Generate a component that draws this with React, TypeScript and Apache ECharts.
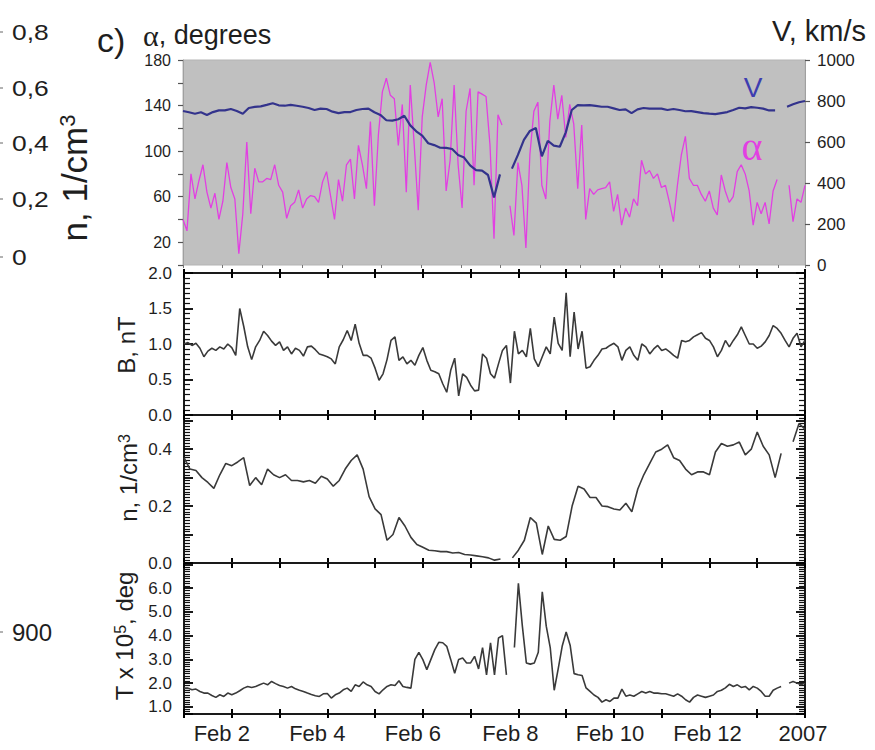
import React, { useEffect, useRef } from "react";
import * as echarts from "echarts";

// ---------- data (time = days since Feb 1 2007, 00:00) ----------
const ALPHA_STEP_H = 2;
const alphaDeg = [
  40, 30, 80, 58, 74, 88, 64, 50, 63, 40,
  56, 90, 68, 58, 10, 45, 108, 45, 85, 73,
  73, 76, 75, 88, 70, 64, 41, 52, 55, 66,
  50, 58, 61, 60, 55, 73, 82, 61, 40, 75,
  56, 88, 93, 58, 105, 88, 67, 126, 52, 114,
  152, 164, 149, 146, 105, 141, 64, 158, 105, 48,
  130, 158, 178, 160, 130, 146, 65, 92, 158, 88,
  50, 135, 155, 70, 152, 150, 148, 105, 23, 132,
  123, null, 52, 26, 90, 70, 15, 97, 135, 143,
  70, 58, 126, 158, 128, 149, 112, 141, 124, 67,
  123, 40, 67, 62, 66, 67, 68, 73, 47, 62,
  35, 50, 42, 58, 52, 92, 80, 83, 76, 80,
  68, 70, 55, 38, 70, 97, 113, 76, 70, 70,
  62, 56, 65, 50, 44, 79, 65, 55, 60, 82,
  88, 80, 65, 35, 55, 45, 55, 36, 65, 75,
  null, null, 70, 38, 58, 55, 70,
];

const V_STEP_H = 3;
const speedKms = [
  751, 745, 738, 745, 732, 746, 754, 754, 761, 751,
  738, 766, 771, 774, 781, 789, 779, 777, 781, 777,
  772, 766, 756, 763, 761, 748, 741, 746, 746, 756,
  761, 763, 745, 732, 706,
  704, 711, 728, 681, 652, 631, 594, 585, 572, 571,
  566, 537, 524, 486, 463, 460, 439, 330, 442, null,
  470, 537, 610, 654, 668, 530, 606, 582, 577, 647,
  756, 780, 779, 780, 776,
  772, 772, 764, 756, 759, 741, 759, 766, 763, 763,
  763, 756, 761, 756, 750, 751, 746, 741, 738, 736,
  741, 746, 756, 767, 764, 770, 767, 763, 754, 754,
  null, 772, 784, 794, 800,
];

const B_STEP_H = 2;
const bField = [
  1.0, 1.02, 0.98, 1.01, 0.94, 0.82, 0.9, 0.94, 0.91, 0.96,
  0.93, 1.0, 0.95, 0.84, 1.5, 1.25, 0.96, 0.78, 0.96, 1.05,
  1.18, 1.12, 1.04, 0.98, 1.03, 0.91, 0.96, 0.86, 0.94, 0.91,
  0.83, 0.96, 0.97, 0.92, 0.86, 0.84, 0.82, 0.79, 0.72, 0.96,
  1.06, 1.19, 1.05, 1.28, 1.01, 0.84, 0.84, 0.8, 0.66, 0.49,
  0.58, 0.78, 1.05, 1.1, 0.77, 0.82, 0.72, 0.77, 0.7, 0.84,
  0.95, 0.77, 0.63, 0.61, 0.58, 0.44, 0.32, 0.63, 0.8, 0.27,
  0.58, 0.53, 0.42, 0.34, 0.35, 0.86, 0.8, 0.58, 0.52, 0.72,
  0.91, 0.98, 0.45, 1.18, 0.86, 0.91, 0.82, 1.22, 0.79, 0.68,
  0.82, 0.96, 0.86, 1.38, 1.01, 0.91, 1.72, 0.82, 1.45, 0.93,
  1.18, 0.66, 0.68, 0.77, 0.84, 0.93, 0.94, 0.98, 1.01, 0.96,
  0.77, 0.91, 0.96, 0.84, 0.77, 1.0, 0.96, 0.86, 0.93, 0.98,
  0.91, 0.93, 0.89, 0.84, 0.8, 1.05, 1.03, 1.05, 1.1, 1.13,
  1.16, 1.08, 1.05, 0.96, 0.82, 0.91, 1.05, 0.96, 1.05, 1.13,
  1.24, 1.12, 1.0, 1.0, 0.94, 0.97, 1.03, 1.12, 1.26, 1.22,
  1.15, 1.05, 0.96, 1.08, 1.15, 0.96, 1.05,
];

const N_STEP_H = 3;
const density = [
  0.37, 0.33, 0.325, 0.3, 0.283, 0.262, 0.31, 0.35, 0.342, 0.355,
  0.37, 0.272, 0.3, 0.275, 0.33, 0.31, 0.3, 0.31, 0.29, 0.29,
  0.285, 0.29, 0.28, 0.305, 0.295, 0.27, 0.29, 0.33, 0.36, 0.38,
  0.33, 0.233, 0.19, 0.17, 0.08, 0.1, 0.16, 0.13, 0.09, 0.065,
  0.055, 0.045, 0.043, 0.04, 0.04, 0.035, 0.037, 0.03, 0.028, 0.025,
  0.022, 0.018, 0.01, 0.014,
  null, 0.018, 0.045, 0.08, 0.16, 0.14, 0.03, 0.13, 0.083, 0.08,
  0.093, 0.2, 0.27, 0.26, 0.23, 0.23, 0.2, 0.198, 0.19, 0.186,
  0.21, 0.18, 0.26, 0.31, 0.35, 0.39, 0.4, 0.415, 0.37, 0.36,
  0.33, 0.31, 0.32, 0.32, 0.31, 0.39, 0.42, 0.41, 0.415, 0.425,
  0.38, 0.4, 0.46, 0.41, 0.38, 0.3, 0.385, null, 0.426, 0.49,
  0.47,
];

const T_STEP_H = 2;
const temperature = [
  1.79, 1.79, 1.72, 1.75, 1.65, 1.58, 1.58, 1.48, 1.4, 1.51,
  1.44, 1.58, 1.51, 1.58, 1.68, 1.79, 1.86, 1.82, 1.86, 1.93,
  2.0, 1.93, 2.07, 1.98, 1.9, 1.86, 1.79, 1.86, 1.76, 1.7,
  1.65, 1.58, 1.52, 1.47, 1.44, 1.55, 1.56, 1.37, 1.51, 1.58,
  1.72, 1.79, 1.65, 1.93, 1.86, 2.05, 1.93, 1.86, 1.65, 1.55,
  1.72, 1.86, 1.93, 1.9, 2.1, 1.86, 1.82, 1.79,
  3.0, 3.3, 2.99, 2.57, 2.99, 3.41, 3.72, 3.7, 3.55, 3.0,
  2.42, 3.0, 3.06, 2.85, 2.85, 3.13, 2.6, 3.5, 2.35, 3.7,
  2.35, 3.9, 4.0, 2.35,
  null, 3.5, 6.2, 4.4, 2.85, 2.8, 2.85, 3.3, 5.85, 4.4,
  3.5, 1.7, 2.6, 3.55, 4.15, 3.6, 2.4, 2.35, 2.32, 1.8,
  1.65, 1.5, 1.4, 1.2, 1.3, 1.23, 1.37, 1.37, 1.75, 1.45,
  1.5, 1.45, 1.55, 1.65, 1.58, 1.65, 1.58, 1.58, 1.55, 1.55,
  1.5, 1.45, 1.55, 1.45, 1.3, 1.2, 1.4, 1.5, 1.45, 1.4,
  1.45, 1.5, 1.65, 1.7, 1.8, 1.95, 1.86, 1.93, 1.82, 1.86,
  1.72, 1.86, 1.79, 1.65, 1.45, 1.45, 1.7, 1.79, 1.86, null,
  2.0, 2.07, 2.0, 1.93, 2.0,
];

// tick labels
const xLabelDays = [1, 3, 5, 7, 9, 11, 13];
const xLabelTexts = ["Feb 2", "Feb 4", "Feb 6", "Feb 8", "Feb 10", "Feb 12", "2007"];
const alphaTickLabels = [20, 60, 100, 140, 180];
const bTickLabels = [0, 0.5, 1, 1.5, 2];
const nTickLabels = [0, 0.2, 0.4];
const tTickLabels = [1, 2, 3, 4, 5, 6];
const leftCropLabels = ["0,8", "0,6", "0,4", "0,2", "0"];
const leftCropExtra = "900";

// ---------- styling ----------
const FONT = '"Liberation Sans", Arial, Helvetica, sans-serif';
const SERIF = '"Liberation Serif", "DejaVu Serif", "Times New Roman", serif';
const INK = "#1e1e1e";
const FRAME = "#1a1a1a";
const ALPHA_COLOR = "#e23fe2";
const V_COLOR = "#33338c";
const LINE_COLOR = "#3a3a3a";
const xLabelShiftPx = [10, 10, 10, 8, 4, 2, 2];
const leftCropY = [32, 88, 143, 199, 257];

const pairs = (values: (number | null)[], stepH: number) =>
  values.map((v, i) => [(i * stepH) / 24, v == null ? "-" : v]);

const near = (list: number[], v: number) => list.some((t) => Math.abs(t - v) < 1e-6);

const lineBase = { type: "line", showSymbol: false, symbol: "none", connectNulls: false, silent: true };

const dayAxis = (position: string, inside: boolean, extra: any = {}) => ({
  gridIndex: 0,
  type: "value",
  min: 0,
  max: 13,
  interval: 1,
  position,
  axisLine: { show: true, onZero: false, lineStyle: { color: FRAME, width: 2 } },
  axisTick: { show: true, inside, length: inside ? 5 : 4, lineStyle: { color: "#000", width: 2 } },
  axisLabel: { show: false },
  splitLine: { show: false },
  ...extra,
});

const lowerY = (position: string, min: number, max: number, minorSplit: number, extra: any = {}) => ({
  gridIndex: 0,
  type: "value",
  position,
  min,
  max,
  axisLine: { show: true, onZero: false, lineStyle: { color: FRAME, width: 2 } },
  axisTick: { show: true, inside: true, length: 9, lineStyle: { color: "#000", width: 1.8 } },
  minorTick: { show: true, splitNumber: minorSplit, length: 6, lineStyle: { color: "#111", width: 1.2 } },
  axisLabel: { show: false },
  splitLine: { show: false },
  minorSplitLine: { show: false },
  ...extra,
});

const yLabel = (formatter: (v: number) => string) => ({
  show: true,
  margin: 12,
  fontSize: 17,
  color: INK,
  fontFamily: FONT,
  formatter,
});

const xRich: any = {};
[20, 16, 8, 4].forEach((p) => {
  xRich["s" + p] = { padding: [0, p, 0, 0], fontSize: 22, fontFamily: FONT, color: INK };
});

function topPanel() {
  return {
    animation: false,
    grid: [{ left: 183, right: 70, top: 60, height: 205, show: true, backgroundColor: "#c0c0c0", borderColor: "#b4b4b4", borderWidth: 1 }],
    xAxis: [
      {
        gridIndex: 0,
        type: "value",
        min: 0,
        max: 13,
        interval: 0.83,
        position: "bottom",
        axisLine: { show: false, onZero: false },
        axisTick: { show: true, length: 3, lineStyle: { color: "#777", width: 1 } },
        axisLabel: { show: false },
        splitLine: { show: false },
      },
    ],
    yAxis: [
      {
        gridIndex: 0,
        type: "value",
        position: "left",
        min: 0,
        max: 180,
        interval: 20,
        axisLine: { show: true, onZero: false, lineStyle: { color: "#a0a0a0", width: 1 } },
        axisTick: { show: true, inside: false, length: 5, lineStyle: { color: "#555", width: 1.2 } },
        axisLabel: { show: true, margin: 12, fontSize: 16, color: INK, fontFamily: FONT, formatter: (v: number) => (near(alphaTickLabels, v) ? String(v) : "") },
        splitLine: { show: false },
      },
      {
        gridIndex: 0,
        type: "value",
        position: "right",
        min: 0,
        max: 1000,
        interval: 200,
        axisLine: { show: true, onZero: false, lineStyle: { color: "#a0a0a0", width: 1 } },
        axisTick: { show: true, inside: false, length: 5, lineStyle: { color: "#555", width: 1.2 } },
        axisLabel: { show: true, margin: 12, fontSize: 17, color: INK, fontFamily: FONT, formatter: (v: number) => String(v) },
        splitLine: { show: false },
      },
    ],
    series: [
      { ...lineBase, name: "α", xAxisIndex: 0, yAxisIndex: 0, data: pairs(alphaDeg, ALPHA_STEP_H), lineStyle: { color: ALPHA_COLOR, width: 1.3 } },
      { ...lineBase, name: "V", xAxisIndex: 0, yAxisIndex: 1, data: pairs(speedKms, V_STEP_H), lineStyle: { color: V_COLOR, width: 2.2 } },
    ],
  };
}

function bPanel() {
  return {
    animation: false,
    grid: [{ left: 184, right: 70, top: 273, height: 142 }],
    xAxis: [dayAxis("top", true), dayAxis("top", false), dayAxis("bottom", true)],
    yAxis: [
      lowerY("left", 0, 2, 7, { interval: 0.5, axisLabel: yLabel((v) => (near(bTickLabels, v) ? v.toFixed(1) : "")) }),
      lowerY("right", 0, 2, 7, { interval: 0.5 }),
    ],
    series: [{ ...lineBase, name: "B", xAxisIndex: 0, yAxisIndex: 0, data: pairs(bField, B_STEP_H), lineStyle: { color: LINE_COLOR, width: 1.6 } }],
  };
}

function nPanel() {
  return {
    animation: false,
    grid: [{ left: 184, right: 70, top: 415, height: 148 }],
    xAxis: [dayAxis("top", true), dayAxis("bottom", true)],
    yAxis: [
      lowerY("left", 0, 0.52, 10, { splitNumber: 5, axisLabel: yLabel((v) => (near(nTickLabels, v) ? v.toFixed(1) : "")) }),
      lowerY("right", 0, 0.52, 10, { splitNumber: 5 }),
    ],
    series: [{ ...lineBase, name: "n", xAxisIndex: 0, yAxisIndex: 0, data: pairs(density, N_STEP_H), lineStyle: { color: LINE_COLOR, width: 1.6 } }],
  };
}

function tPanel() {
  return {
    animation: false,
    grid: [{ left: 184, right: 70, top: 563, height: 151 }],
    xAxis: [
      dayAxis("top", true),
      dayAxis("bottom", true),
      dayAxis("bottom", false, {
        axisLabel: {
          show: true,
          margin: 8,
          fontSize: 22,
          color: INK,
          fontFamily: FONT,
          rich: xRich,
          formatter: (v: number) => {
            const r = Math.round(v);
            if (Math.abs(v - r) > 1e-6) return "";
            const k = xLabelDays.indexOf(r);
            if (k < 0) return "";
            return `{s${xLabelShiftPx[k] * 2}|${xLabelTexts[k]}}`;
          },
        },
      }),
    ],
    yAxis: [
      lowerY("left", 0.7, 7.06, 10, { splitNumber: 6, axisLabel: yLabel((v) => (near(tTickLabels, v) ? v.toFixed(1) : "")) }),
      lowerY("right", 0.7, 7.06, 10, { splitNumber: 6 }),
    ],
    series: [{ ...lineBase, name: "T", xAxisIndex: 0, yAxisIndex: 0, data: pairs(temperature, T_STEP_H), lineStyle: { color: LINE_COLOR, width: 1.6 } }],
  };
}

function textLayer() {
  const supRich = (big: number, small: number) => ({
    a: { fontSize: big, fontFamily: FONT, fill: INK },
    s: { fontSize: small, fontFamily: FONT, fill: INK, verticalAlign: "top" },
  });
  const graphic: any[] = [
    ...leftCropLabels.map((t, k) => ({
      type: "text",
      x: 12,
      y: leftCropY[k],
      scaleX: 1.2,
      style: { text: t, fontSize: 22, fontFamily: FONT, fill: INK, align: "left", verticalAlign: "middle" },
    })),
    ...leftCropY.concat([632]).map((y) => ({
      type: "line",
      shape: { x1: 0, y1: y, x2: 3, y2: y },
      style: { stroke: "#666", lineWidth: 1 },
    })),
    { type: "text", x: 12, y: 632, style: { text: leftCropExtra, fontSize: 24, fontFamily: FONT, fill: INK, align: "left", verticalAlign: "middle" } },
    { type: "text", x: 74, y: 178, rotation: Math.PI / 2, style: { text: "{a|n, 1/cm}{s|3}", rich: supRich(35, 22), align: "center", verticalAlign: "middle" } },
    { type: "text", x: 97, y: 40, style: { text: "c)", fontSize: 34, fontFamily: FONT, fill: INK, align: "left", verticalAlign: "middle" } },
    {
      type: "text",
      x: 143,
      y: 35,
      style: {
        text: "{g|α}{t|, degrees}",
        rich: { g: { fontSize: 30, fontFamily: SERIF, fill: INK }, t: { fontSize: 27, fontFamily: FONT, fill: INK } },
        align: "left",
        verticalAlign: "middle",
      },
    },
    { type: "text", x: 866, y: 31, style: { text: "V, km/s", fontSize: 29, fontFamily: FONT, fill: INK, align: "right", verticalAlign: "middle" } },
    { type: "text", x: 753, y: 87, style: { text: "V", fontSize: 28, fontFamily: FONT, fill: "#3d3db0", align: "center", verticalAlign: "middle" } },
    { type: "text", x: 752, y: 146, style: { text: "α", fontSize: 40, fontFamily: SERIF, fill: ALPHA_COLOR, align: "center", verticalAlign: "middle" } },
    { type: "text", x: 126, y: 345, rotation: Math.PI / 2, style: { text: "B, nT", fontSize: 24, fontFamily: FONT, fill: INK, align: "center", verticalAlign: "middle" } },
    { type: "text", x: 128, y: 478, rotation: Math.PI / 2, style: { text: "{a|n, 1/cm}{s|3}", rich: supRich(24, 16), align: "center", verticalAlign: "middle" } },
    { type: "text", x: 124, y: 636, rotation: Math.PI / 2, style: { text: "{a|T x 10}{s|5}{a|, deg}", rich: supRich(24, 16), align: "center", verticalAlign: "middle" } },
  ];
  return { animation: false, graphic };
}

function Layer({ build }: { build: () => any }) {
  const ref = useRef<HTMLDivElement | null>(null);
  useEffect(() => {
    if (!ref.current) return;
    const chart = echarts.init(ref.current, null, { renderer: "svg" });
    chart.setOption(build());
    return () => chart.dispose();
  }, []);
  return <div ref={ref} style={{ position: "absolute", left: 0, top: 0, width: 875, height: 750 }} />;
}

export default function App() {
  return (
    <div style={{ position: "absolute", left: 0, top: 0, width: 875, height: 750, background: "#fff" }}>
      <Layer build={topPanel} />
      <Layer build={bPanel} />
      <Layer build={nPanel} />
      <Layer build={tPanel} />
      <Layer build={textLayer} />
    </div>
  );
}
